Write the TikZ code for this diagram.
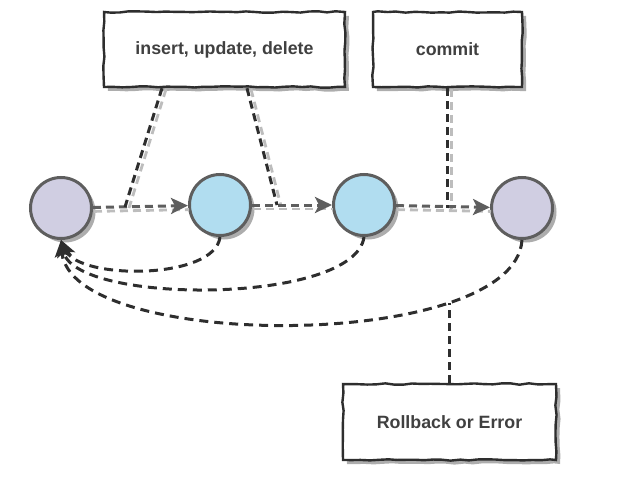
\documentclass[tikz,border=0pt]{standalone}
\usepackage{fontspec}
\setmainfont{Liberation Sans}
\usetikzlibrary{arrows.meta,shadows,decorations.pathmorphing}
\definecolor{strokeg}{HTML}{5E5E5E}
\definecolor{dark}{HTML}{2E2E2E}
\definecolor{ghostc}{HTML}{BDBDBD}
\definecolor{lav}{HTML}{D0CEE2}
\definecolor{sky}{HTML}{B1DDF0}
\definecolor{txt}{HTML}{404040}
\begin{document}
\pgfmathsetseed{7}
\begin{tikzpicture}[x=1pt,y=-1pt,
  shad/.style={drop shadow={shadow xshift=4pt,shadow yshift=-4pt,fill=black!32,opacity=1}},
  state/.style={circle, draw=strokeg, line width=3pt, minimum size=61pt, inner sep=0pt, shad},
  sketchbox/.style={draw=dark, line width=2.4pt, fill=white, inner sep=0pt,
    font=\fontsize{17.8}{20}\selectfont\bfseries, text=txt,
    decorate, decoration={random steps,segment length=9pt,amplitude=0.7pt}, shad},
  flow/.style={strokeg, line width=3pt, dash pattern=on 8pt off 5pt,
    -{Stealth[length=17pt,width=16pt,inset=4pt]}},
  flowghost/.style={ghostc, line width=2.8pt, dash pattern=on 8pt off 5pt},
  dline/.style={dark, line width=3pt, dash pattern=on 8pt off 5pt},
  back/.style={dark, line width=3pt, dash pattern=on 9pt off 6pt,
    -{Stealth[length=17pt,width=15pt,inset=4pt]}},
]
\useasboundingbox (0,0) rectangle (620,484);

% boxes
\node[sketchbox, minimum width=241pt, minimum height=75pt] (ops) at (224.5,49.5) {insert, update, delete};
\node[sketchbox, minimum width=149pt, minimum height=75pt] (commit) at (447.5,49.5) {commit};
\node[sketchbox, minimum width=213pt, minimum height=76pt] (rb) at (449.5,422) {Rollback or Error};

% circles
\node[state, fill=lav] (c1) at (61,208) {};
\node[state, fill=sky] (c2) at (220,205) {};
\node[state, fill=sky] (c3) at (364,205) {};
\node[state, fill=lav] (c4) at (522,208) {};

% junction points
\coordinate (j1) at (125,207);
\coordinate (j2) at (277,205);
\coordinate (opsl) at ([xshift=-62.5pt]ops.south);
\coordinate (opsr) at ([xshift=22.5pt]ops.south);

% ghost (sketch) strokes
\begin{scope}[transform canvas={xshift=1pt,yshift=-4pt}]
  \draw[flowghost] (c1) -- (c2);
  \draw[flowghost] (c2) -- (c3);
  \draw[flowghost] (c3) -- (c4);
\end{scope}
\begin{scope}[transform canvas={xshift=4pt,yshift=-1pt}]
  \draw[flowghost] (opsl) -- (j1);
  \draw[flowghost] (opsr) -- (j2);
  \draw[flowghost] (commit.south) -- (commit.south |- c4.west);
\end{scope}

% main flow
\draw[flow] (c1) -- (c2);
\draw[flow] (c2) -- (c3);
\draw[flow] (c3) -- (c4);

% links from boxes
\draw[dline] (opsl) -- (j1);
\draw[dline] (opsr) -- (j2);
\draw[dline] (commit.south) -- (commit.south |- c4.west);

% return curves
\draw[back] (c2.south) .. controls (215,280) and (80,280) .. (c1.south);
\draw[back] (c3.south) .. controls (355,305) and (75,305) .. (c1.south);
\draw[back] (c4.south) .. controls (515,352) and (70,352) .. coordinate[pos=0.25] (rbp) (c1.south);
\draw[dline] (rb.north) -- (rb.north |- rbp);
\end{tikzpicture}
\end{document}
